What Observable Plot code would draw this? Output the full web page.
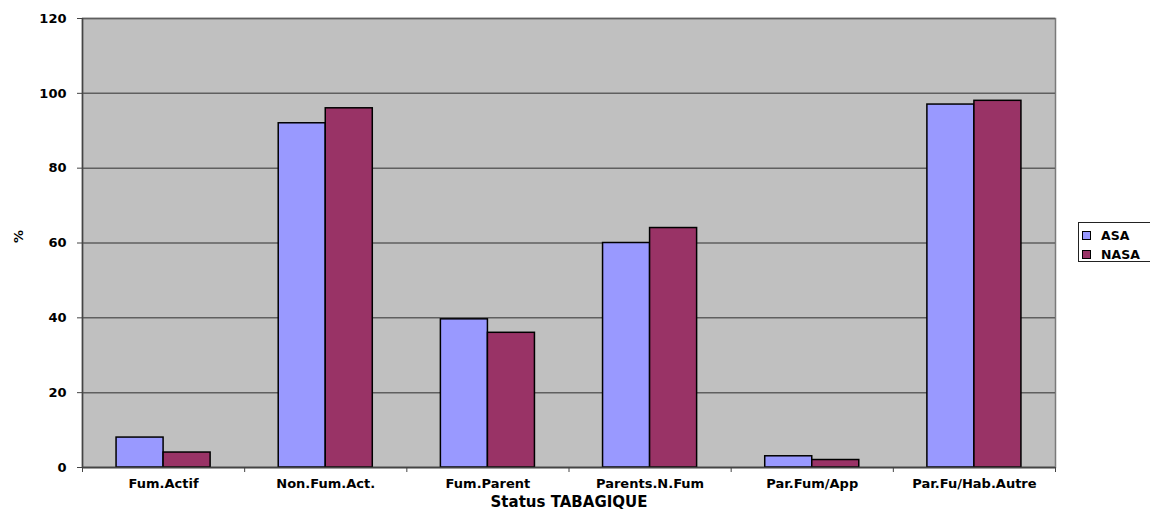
<!DOCTYPE html>
<html>
<head>
<meta charset="utf-8">
<script src="https://cdn.jsdelivr.net/npm/d3@7"></script>
<script src="https://cdn.jsdelivr.net/npm/@observablehq/plot@0.6"></script>
<style>
  html, body { margin: 0; padding: 0; background: #fff; overflow: hidden; }
  #wrap { position: relative; width: 1150px; height: 512px; }
  #legend {
    position: absolute; left: 1078px; top: 222px; width: 90px; height: 40px;
    border: 1px solid #222; background: #fff; box-sizing: border-box;
    font-family: "DejaVu Sans", sans-serif; font-weight: bold; font-size: 12.5px; color: #000;
  }
  .item { position: absolute; left: 3px; display: flex; align-items: center; }
  .sw { width: 7px; height: 7px; border: 1.5px solid #000; margin-right: 10px; }
</style>
</head>
<body>
<div id="wrap"><div id="legend"></div></div>
<script>
const categories = ["Fum.Actif", "Non.Fum.Act.", "Fum.Parent", "Parents.N.Fum", "Par.Fum/App", "Par.Fu/Hab.Autre"];
const seriesNames = ["ASA", "NASA"];
const seriesColors = ["#9999FF", "#993366"];
const asaValues = [8, 92, 39.6, 60, 3, 97];
const nasaValues = [4, 96, 36, 64, 2, 98];
const yTicks = [0, 20, 40, 60, 80, 100, 120];
const xTitle = "Status TABAGIQUE";
const yTitle = "%";

const groupPad = 0.21;
const barW = (1 - 2 * groupPad) / 2;
const rows = categories.flatMap((c, i) => [
  {cat: c, i, s: seriesNames[0], k: 0, v: asaValues[i]},
  {cat: c, i, s: seriesNames[1], k: 1, v: nasaValues[i]}
]);

const chart = Plot.plot({
  width: 1150,
  height: 512,
  marginLeft: 82,
  marginRight: 95,
  marginTop: 18,
  marginBottom: 45,
  style: {fontFamily: "DejaVu Sans, sans-serif", fontWeight: "bold", fontSize: "13px", background: "#fff", color: "#000"},
  x: {domain: [0, categories.length], axis: null},
  y: {domain: [0, 120], axis: null},
  color: {domain: seriesNames, range: seriesColors},
  marks: [
    Plot.frame({fill: "#C0C0C0", stroke: "#7a7a7a", strokeWidth: 1.5}),
    Plot.gridY(yTicks, {stroke: "#5f5f5f", strokeOpacity: 1, strokeWidth: 1.5}),
    Plot.rectY(rows, {
      x1: d => d.i + groupPad + d.k * barW,
      x2: d => d.i + groupPad + (d.k + 1) * barW,
      y1: 0, y2: "v",
      fill: "s", stroke: "#000", strokeWidth: 1.5
    }),
    Plot.ruleX([0], {stroke: "#444", strokeWidth: 1.5}),
    Plot.ruleY([0], {stroke: "#444", strokeWidth: 1.5}),
    Plot.axisY({ticks: yTicks, tickSize: 5, tickPadding: 11, stroke: "#444", label: null, fontSize: 13}),
    Plot.axisX({ticks: d3.range(categories.length + 1), tickSize: 5, tickFormat: () => "", stroke: "#444", label: null}),
    Plot.axisX({ticks: categories.map((c, i) => i + 0.5), tickSize: 0, tickPadding: 11,
      tickFormat: t => categories[Math.floor(t)], label: null, fontSize: 13}),
    Plot.text([yTitle], {frameAnchor: "left", dx: -64, rotate: -90, fontSize: 13, fontWeight: "bold"}),
    Plot.text([xTitle], {frameAnchor: "bottom", dy: 39, lineAnchor: "bottom", fontSize: 15, fontWeight: "bold"})
  ]
});
document.getElementById("wrap").prepend(chart);

const legend = document.getElementById("legend");
seriesNames.forEach((s, i) => {
  const it = document.createElement("div");
  it.className = "item";
  it.style.top = (5 + i * 19) + "px";
  const sw = document.createElement("div");
  sw.className = "sw";
  sw.style.background = seriesColors[i];
  const lb = document.createElement("span");
  lb.textContent = s;
  it.appendChild(sw);
  it.appendChild(lb);
  legend.appendChild(it);
});
</script>
</body>
</html>
